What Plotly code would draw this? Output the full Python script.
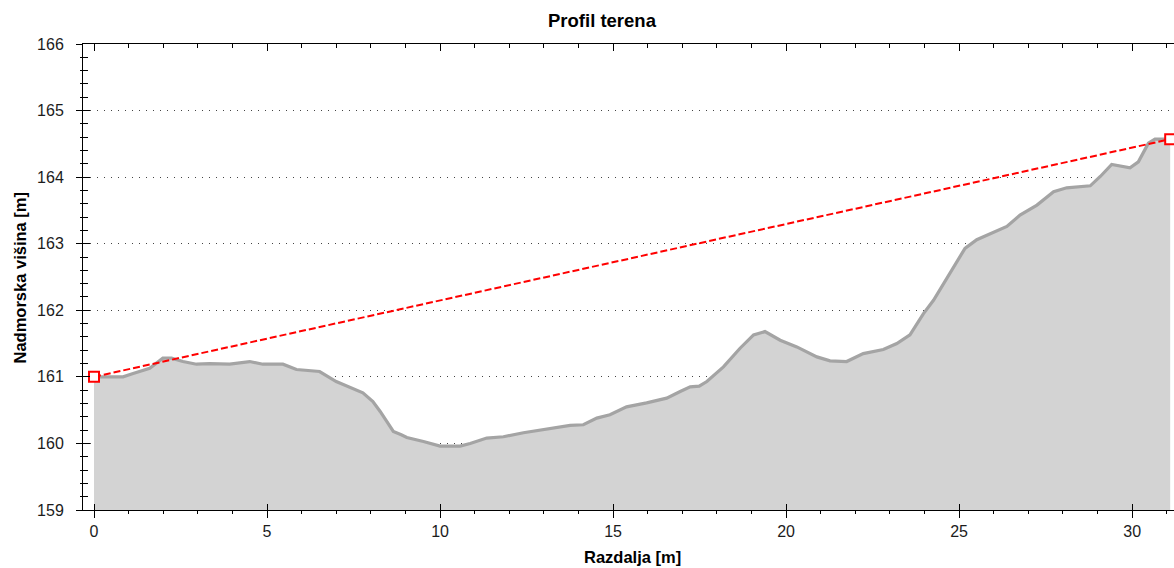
import plotly.graph_objects as go

# Terrain profile data (distance [m], elevation [m])
dist = [0, 0.84, 1.13, 1.61, 1.99, 2.24, 2.57, 2.96, 3.34, 3.92, 4.5, 4.88, 5.46, 5.85,
        6.52, 7.0, 7.77, 8.06, 8.27, 8.45, 8.65, 8.88, 9.04, 9.52, 10.0, 10.58, 10.87,
        11.35, 11.83, 12.41, 13.08, 13.76, 14.14, 14.53, 14.91, 15.39, 15.97, 16.55,
        16.94, 17.23, 17.49, 17.71, 18.19, 18.67, 19.06, 19.39, 19.83, 20.31, 20.89,
        21.27, 21.75, 22.23, 22.81, 23.2, 23.58, 23.97, 24.26, 24.74, 25.17, 25.51,
        26.38, 26.76, 27.25, 27.73, 28.11, 28.79, 29.08, 29.41, 29.94, 30.18, 30.47,
        30.66, 30.95, 31.1]
elev = [161.0, 161.0, 161.05, 161.13, 161.28, 161.28, 161.23, 161.19, 161.2, 161.19,
        161.23, 161.19, 161.19, 161.11, 161.08, 160.93, 160.76, 160.63, 160.48, 160.33,
        160.18, 160.13, 160.09, 160.03, 159.96, 159.96, 160.0, 160.08, 160.1, 160.16,
        160.22, 160.27, 160.28, 160.38, 160.43, 160.55, 160.61, 160.68, 160.78, 160.85,
        160.86, 160.93, 161.15, 161.43, 161.63, 161.68, 161.55, 161.45, 161.3, 161.24,
        161.23, 161.35, 161.41, 161.5, 161.63, 161.95, 162.15, 162.56, 162.93, 163.06,
        163.26, 163.43, 163.58, 163.78, 163.84, 163.87, 164.01, 164.19, 164.14, 164.23,
        164.51, 164.57, 164.57, 164.57]

# Line of sight between endpoints
los_x = [0, 31.1]
los_y = [161.0, 164.57]

x_range = [-0.318, 31.21]
y_range = [159, 166]

title_text = "Profil terena"
x_title = "Razdalja [m]"
y_title = "Nadmorska višina [m]"

FONT = "Liberation Sans, Arial, sans-serif"
TXT = "#1c1c1c"

W, H = 1174, 568
ML, MR, MT, MB = 83, 0, 44, 58
PW, PH = W - ML - MR, H - MT - MB

fig = go.Figure()

fig.add_trace(go.Scatter(
    x=dist, y=elev, mode="lines", fill="tozeroy",
    fillcolor="#d3d3d3", line=dict(color="#a4a4a4", width=3.2),
    showlegend=False, hoverinfo="skip"))

fig.add_trace(go.Scatter(
    x=los_x, y=los_y, mode="lines+markers",
    line=dict(color="#ff0000", width=2, dash="7px,3px"),
    marker=dict(symbol="square", size=10, color="white",
                line=dict(color="#ff0000", width=2)),
    showlegend=False, hoverinfo="skip"))

# empty traces to instantiate helper axes
fig.add_trace(go.Scatter(x=[], y=[], xaxis="x2", yaxis="y", showlegend=False))
fig.add_trace(go.Scatter(x=[], y=[], xaxis="x3", yaxis="y", showlegend=False))
fig.add_trace(go.Scatter(x=[], y=[], xaxis="x", yaxis="y2", showlegend=False))

axis_common = dict(showline=True, linecolor="black", linewidth=1,
                   tickcolor="black", tickwidth=1, zeroline=False, automargin=False)


def px_x(p):
    return (p - ML) / PW


def px_y(p):
    return (H - MB - p) / PH


fig.update_layout(
    width=W, height=H,
    margin=dict(l=ML, r=MR, t=MT, b=MB, autoexpand=False),
    paper_bgcolor="white", plot_bgcolor="white",
    font=dict(family=FONT, color=TXT, size=16),
    xaxis=dict(range=x_range, tick0=0, dtick=5, ticks="outside", ticklen=7,
               minor=dict(ticks="outside", ticklen=3, dtick=1, tick0=0,
                          tickcolor="black", showgrid=False),
               showgrid=False, tickfont=dict(size=16, color=TXT),
               **axis_common),
    xaxis2=dict(range=x_range, overlaying="x", side="top", anchor="y",
                tick0=0, dtick=5, ticks="inside", ticklen=7,
                minor=dict(ticks="inside", ticklen=4, dtick=1, tick0=0,
                           tickcolor="black", showgrid=False),
                showgrid=False, showticklabels=False, **axis_common),
    xaxis3=dict(range=x_range, overlaying="x", side="bottom", anchor="y",
                tick0=0, dtick=5, ticks="inside", ticklen=6,
                showgrid=False, showticklabels=False, **axis_common),
    yaxis=dict(range=y_range, tick0=159, dtick=1, ticks="outside", ticklen=6,
               minor=dict(ticks="outside", ticklen=2, dtick=0.2, tick0=159,
                          tickcolor="black", showgrid=False),
               showgrid=True, gridcolor="#444444", gridwidth=1, griddash="1px,6px",
               tickfont=dict(size=16, color=TXT), ticklabelstandoff=9,
               **axis_common),
    yaxis2=dict(range=y_range, overlaying="y", side="left", anchor="x",
                tick0=159, dtick=1, ticks="inside", ticklen=7,
                minor=dict(ticks="inside", ticklen=5, dtick=0.2, tick0=159,
                           tickcolor="black", showgrid=False),
                showgrid=False, showticklabels=False, **axis_common),
    annotations=[
        dict(text="<b>" + title_text + "</b>", xref="paper", yref="paper",
             x=px_x(602), y=px_y(20), xanchor="center", yanchor="middle",
             showarrow=False, font=dict(size=18.5, color="black", family=FONT)),
        dict(text="<b>" + x_title + "</b>", xref="paper", yref="paper",
             x=px_x(632), y=px_y(557), xanchor="center", yanchor="middle",
             showarrow=False, font=dict(size=16.5, color="black", family=FONT)),
        dict(text="<b>" + y_title + "</b>", xref="paper", yref="paper",
             x=px_x(19), y=px_y(278.5), xanchor="center", yanchor="middle",
             textangle=-90, showarrow=False,
             font=dict(size=16.5, color="black", family=FONT)),
    ],
)

fig.write_html(
    "out.html",
    config={"displayModeBar": False},
    post_script="document.body.style.margin='0';document.body.style.padding='0';"
                "document.documentElement.style.overflow='hidden';",
)
